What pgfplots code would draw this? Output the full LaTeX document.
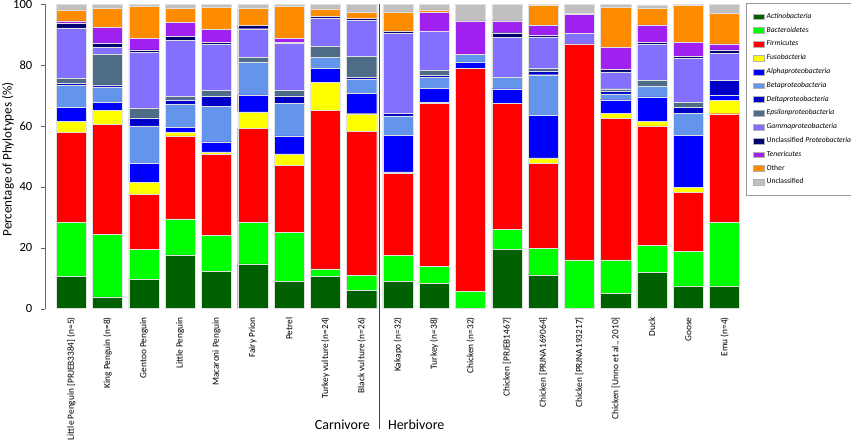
\documentclass[border=0pt]{standalone}
\usepackage{fontspec}
\setmainfont{Carlito}
\usepackage{pgfplots}
\usepackage{pgfplotstable}
\pgfplotsset{compat=1.18}

\definecolor{cAct}{RGB}{0,96,0}
\definecolor{cBac}{RGB}{0,255,0}
\definecolor{cFir}{RGB}{255,0,0}
\definecolor{cFus}{RGB}{255,255,0}
\definecolor{cAlp}{RGB}{0,0,255}
\definecolor{cBet}{RGB}{100,149,237}
\definecolor{cDel}{RGB}{0,0,200}
\definecolor{cEps}{RGB}{78,108,135}
\definecolor{cGam}{RGB}{132,112,255}
\definecolor{cUnp}{RGB}{0,0,110}
\definecolor{cTen}{RGB}{160,32,240}
\definecolor{cOth}{RGB}{255,140,0}
\definecolor{cUnc}{RGB}{192,192,192}

% segment sizes (%), one row per sample
\pgfplotstableread{
idx act  bac  fir  fus alp  bet  del eps gam  unp ten  oth  unc
0   10.7 17.6 29.7 3.4 4.7  7.3  0.6 1.6 16.6 1.5 0.8  3.6  1.9
1   3.9  20.6 36.0 4.5 2.7  5.1  0.7 9.9 2.3  1.4 5.2  6.2  1.5
2   9.6  9.8  18.2 3.9 6.1  12.4 2.6 3.3 18.3 0.8 3.8  10.4 0.8
3   17.7 11.8 27.2 1.3 1.5  7.5  1.6 1.1 18.3 1.4 4.7  4.4  1.5
4   12.3 11.8 26.6 0.8 3.3  11.7 3.3 1.8 15.1 0.8 4.3  7.2  1.0
5   14.7 13.6 31.0 5.3 5.6  10.8 0   1.5 9.4  1.1 0    5.5  1.5
6   9.0  16.1 21.9 3.8 5.9  10.6 2.6 1.8 15.3 0.5 1.3  10.4 0.8
7   10.7 2.4  52.1 9.0 4.6  3.7  0   3.7 9.3  0.5 0    2.4  1.6
8   6.0  4.9  47.3 5.8 6.8  4.6  0.5 7.1 11.6 0.6 0    2.1  2.7
9   9.0  8.5  27.0 0.4 12.0 6.4  0.8 0   26.2 0.9 0    6.2  2.6
10  8.4  5.5  53.6 0.3 4.6  3.5  0.7 1.6 12.8 0   6.3  0.8  1.9
11  0    5.7  73.3 0   2.0  2.6  0   0   0    0   10.9 0    5.5
12  19.4 6.7  41.3 0   4.8  3.7  0   0   13.2 1.5 3.9  0    5.5
13  11.1 8.8  27.9 1.7 14.0 13.3 1.3 0.9 10.2 0.5 3.3  6.5  0.5
14  0    16.0 70.9 0   0    0    0   0   3.4  0   6.4  0.2  3.1
15  5.0  11.0 46.4 1.8 4.4  1.9  0.8 0.9 5.5  0.9 7.2  13.2 1.0
16  12.0 8.9  39.1 1.6 7.9  3.6  0   2.0 11.6 0.8 5.7  5.5  1.0
17  7.5  11.3 19.4 1.7 17.0 7.3  1.9 1.6 14.4 0.7 4.7  12.0 0.5
18  7.5  20.8 35.7 4.3 1.9  0    4.7 0   9.0  1.1 1.9  10.1 3.0
}\phylo

\begin{document}
\begin{tikzpicture}
\useasboundingbox (-33.75pt,-98.3pt) rectangle (604.5pt,231.5pt);
\begin{axis}[
    at={(0pt,0pt)}, anchor=south west,
    scale only axis,
    width=525.75pt, height=228.45pt,
    ybar stacked,
    bar width=0.83,
    xmin=-0.725, xmax=18.59,
    ymin=0, ymax=100,
    ytick={0,20,...,100},
    axis y line*=left,
    axis x line*=bottom,
    x axis line style={draw=none},
    xtick style={draw=none},
    tick align=outside,
    major tick length=3pt,
    ytick style={gray!80!black},
    y axis line style={gray!80!black},
    /pgf/number format/assume math mode=true,
    yticklabel style={font=\fontsize{9.4}{10}\selectfont, xshift=-3pt},
    xtick={0,...,18},
    xticklabels={{Little Penguin [PRJEB3384] (n=5)},{King Penguin (n=8)},{Gentoo Penguin},{Little Penguin},{Macaroni Penguin},{Fairy Prion},{Petrel},{Turkey vulture (n=24)},{Black vulture (n=26)},{Kakapo (n=32)},{Turkey (n=38)},{Chicken (n=32)},{Chicken [PRJEB1467]},{Chicken [PRJNA169064]},{Chicken [PRJNA193217]},{Chicken [Unno et al., 2010]},{Duck},{Goose},{Emu (n=4)}},
    xticklabel style={rotate=90, anchor=east, font=\fontsize{7}{8}\selectfont},
    ylabel={Percentage of Phylotypes (\%)},
    every axis y label/.style={at={(axis description cs:-0.0528,0.49)}, rotate=90, anchor=center, font=\fontsize{9.8}{11}\selectfont},
    every axis plot/.append style={draw=black!12, line width=0.3pt},
    legend style={at={(axis description cs:1.0,1.002)}, anchor=north west,
        draw=gray!80, font=\fontsize{5.7}{6.5}\selectfont,
        inner xsep=5pt, inner ysep=5pt, row sep=0.9pt},
    legend cell align=left,
    legend image code/.code={\draw[#1,draw=gray!60] (0pt,-2.2pt) rectangle (8pt,2.2pt);},
    clip=false,
]
\addplot[fill=cAct] table[x=idx,y=act]{\phylo};
\addplot[fill=cBac] table[x=idx,y=bac]{\phylo};
\addplot[fill=cFir] table[x=idx,y=fir]{\phylo};
\addplot[fill=cFus] table[x=idx,y=fus]{\phylo};
\addplot[fill=cAlp] table[x=idx,y=alp]{\phylo};
\addplot[fill=cBet] table[x=idx,y=bet]{\phylo};
\addplot[fill=cDel] table[x=idx,y=del]{\phylo};
\addplot[fill=cEps] table[x=idx,y=eps]{\phylo};
\addplot[fill=cGam] table[x=idx,y=gam]{\phylo};
\addplot[fill=cUnp] table[x=idx,y=unp]{\phylo};
\addplot[fill=cTen] table[x=idx,y=ten]{\phylo};
\addplot[fill=cOth] table[x=idx,y=oth]{\phylo};
\addplot[fill=cUnc] table[x=idx,y=unc]{\phylo};
\legend{\textit{Actinobacteria},\textit{Bacteroidetes},\textit{Firmicutes},\textit{Fusobacteria},\textit{Alphaproteobacteria},\textit{Betaproteobacteria},\textit{Deltaproteobacteria},\textit{Epsilonproteobacteria},\textit{Gammaproteobacteria},Unclassified \textit{Proteobacteria},\textit{Tenericutes},Other,Unclassified}
\draw[black!75, line width=0.8pt] (axis cs:8.5,100) -- (axis cs:8.5,-39.6);
\node[anchor=east, font=\fontsize{10.5}{12}\selectfont, inner sep=0pt] at (axis cs:8.23,-38) {Carnivore};
\node[anchor=west, font=\fontsize{10.5}{12}\selectfont, inner sep=0pt] at (axis cs:8.72,-38) {Herbivore};
\end{axis}
\end{tikzpicture}
\end{document}
